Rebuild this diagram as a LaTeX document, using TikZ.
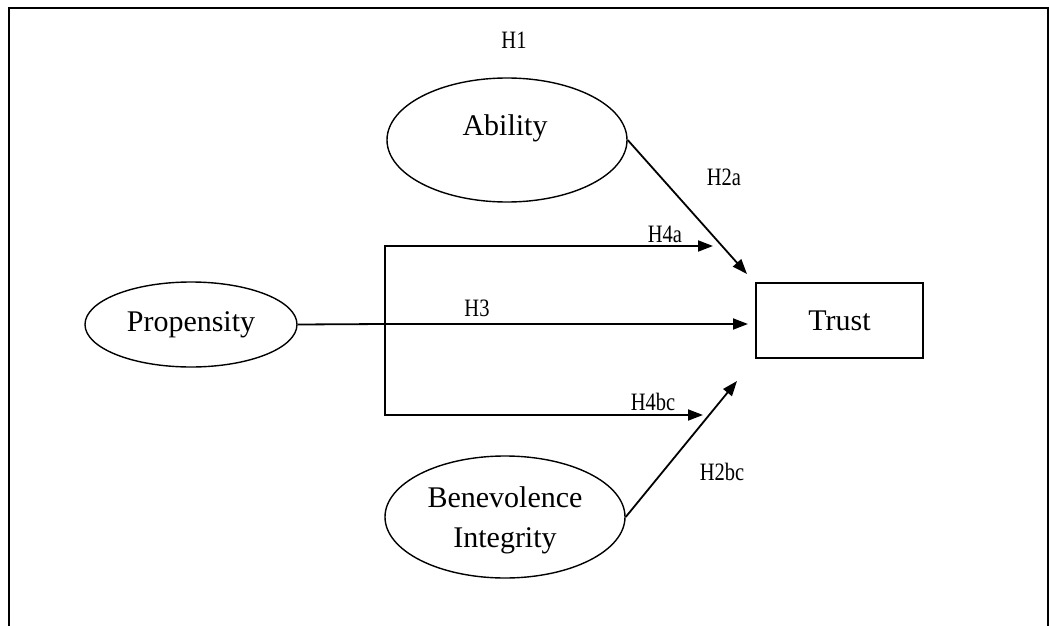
\documentclass[tikz,border=0pt]{standalone}
\usepackage{fontspec}
\setmainfont{Liberation Serif}
\newfontfamily\labfont[FakeStretch=0.82]{Liberation Serif}
\usetikzlibrary{arrows.meta,shapes.geometric}
\tikzset{
  ell/.style={draw, ellipse, line width=1.4pt, inner sep=0pt},
  txt/.style={inner sep=0pt, font=\fontsize{30}{34}\selectfont, align=center},
  box/.style={draw, rectangle, line width=1.4pt, inner sep=0pt, font=\fontsize{30}{34}\selectfont},
  lab/.style={inner sep=0pt, font=\labfont\fontsize{25}{28}\selectfont},
  arr/.style={line width=1.8pt, -{Triangle[length=15pt,width=11pt]}},
  conn/.style={line width=1.8pt},
  frame/.style={line width=2pt}
}
\begin{document}
\begin{tikzpicture}[x=1pt,y=-1pt]
\useasboundingbox (0,0) rectangle (1050,626);
\draw[frame] (9,640) -- (9,8) -- (1048,8) -- (1048,640);
% nodes
\node[ell, minimum width=212pt, minimum height=85pt] (prop) at (191,324.5) {};
\node[txt] (proptxt) at (191,325) {Propensity};
\node[ell, minimum width=240pt, minimum height=124pt] (abil) at (507,140) {};
\node[txt] (abiltxt) at (505,128) {Ability};
\node[ell, minimum width=240pt, minimum height=122pt] (ben) at (505,517) {};
\node[txt] (bentxt) at (505,520) {Benevolence\\[6pt]Integrity};
\node[box, minimum width=167pt, minimum height=75pt] (trust) at (839.5,320.5) {Trust};
% labels
\node[lab] (h1) at (514,40) {H1};
\node[lab] (h2a) at (724,177) {H2a};
\node[lab] (h4a) at (665,234) {H4a};
\node[lab] (h3) at (477,308) {H3};
\node[lab] (h4bc) at (653,402) {H4bc};
\node[lab] (h2bc) at (722,472) {H2bc};
% coordinates
\coordinate (br) at (385,324);
\coordinate (t3) at (748,324);
\coordinate (t4a) at (713,246);
\coordinate (t4bc) at (703,415);
\coordinate (t2a) at (747,274);
\coordinate (t2bc) at (737,381);
% connectors
\draw[conn] (prop.east) -- (br);
\draw[arr] (br) -- (t3);
\draw[arr] (br) |- (t4a);
\draw[arr] (br) |- (t4bc);
\draw[arr] (abil.east) -- (t2a);
\draw[arr] (ben.east) -- (t2bc);
\end{tikzpicture}
\end{document}
